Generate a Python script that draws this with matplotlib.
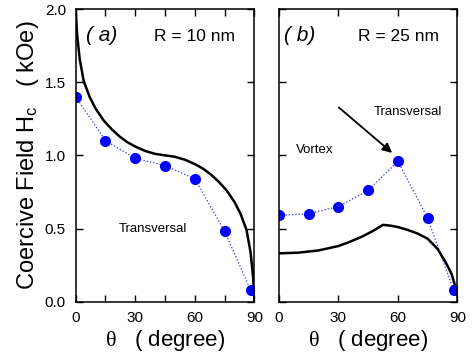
import matplotlib
matplotlib.use("Agg")
import matplotlib.pyplot as plt

plt.rcParams['font.family'] = ['Liberation Sans', 'DejaVu Sans']
plt.rcParams['mathtext.fontset'] = 'custom'
plt.rcParams['mathtext.rm'] = 'Liberation Serif'
plt.rcParams['mathtext.sf'] = 'Liberation Sans'
plt.rcParams['mathtext.it'] = 'Liberation Serif:italic'

# Simulated points (blue dots)
theta_pts = [0, 15, 30, 45, 60, 75, 88]
hc_a_pts = [1.40, 1.10, 0.98, 0.93, 0.84, 0.48, 0.08]
hc_b_pts = [0.59, 0.60, 0.65, 0.76, 0.96, 0.57, 0.08]

# Analytical curves (black)
theta_a = [0, 0.7, 2, 4, 7, 10, 14, 18, 22, 26, 30, 35, 40, 45, 50, 55, 60,
           64, 68, 72, 76, 80, 83, 86, 88, 89.3, 90]
hc_a = [2.0, 1.83, 1.66, 1.51, 1.40, 1.32, 1.24, 1.18, 1.13, 1.09, 1.06, 1.03,
        1.01, 1.0, 0.99, 0.97, 0.94, 0.91, 0.87, 0.82, 0.76, 0.68, 0.60, 0.49,
        0.34, 0.17, 0.0]
theta_b = [0, 10, 20, 30, 36, 42, 47, 52.5, 56, 60, 65, 70, 75, 80, 84, 87, 89, 90]
hc_b = [0.33, 0.335, 0.35, 0.38, 0.41, 0.445, 0.48, 0.525, 0.52, 0.51, 0.49,
        0.465, 0.43, 0.36, 0.27, 0.19, 0.10, 0.05]

fig = plt.figure(figsize=(4.77, 3.63), dpi=100)
ax1 = fig.add_axes([0.1587, 0.169, 0.3748, 0.806])
ax2 = fig.add_axes([0.5843, 0.169, 0.3748, 0.806])

for ax, th, hc, hp in [(ax1, theta_a, hc_a, hc_a_pts), (ax2, theta_b, hc_b, hc_b_pts)]:
    ax.plot(theta_pts, hp, linestyle=':', color='#3030ff', linewidth=0.9)
    ax.plot(th, hc, color='black', linewidth=1.8)
    ax.plot(theta_pts, hp, 'o', color='blue', markersize=7, linestyle='none')
    ax.set_xlim(0, 90)
    ax.set_ylim(0, 2.0)
    ax.set_yticks([0, 0.5, 1.0, 1.5, 2.0])
    ax.tick_params(direction='in', top=True, right=True, length=5, width=1,
                   labelsize=11, pad=7)
    for s in ax.spines.values():
        s.set_linewidth(1.1)
    ax.set_xlabel(r"$\mathrm{\theta}$   ( degree)", fontsize=16, labelpad=2)

ax1.set_xticks(range(0, 91, 15))
ax1.set_xticklabels(['0', '', '30', '', '60', '', '90'])
ax1.set_yticklabels(['0.0', '0.5', '1.0', '1.5', '2.0'])
ax2.set_xticks([0, 30, 60, 90])
ax2.set_yticklabels([])

ax1.set_ylabel(r"Coercive Field H$_{\mathsf{c}}$   ( kOe)", fontsize=17, labelpad=3)

ax1.text(5, 1.82, "( a)", fontsize=15, style='italic', va='center')
ax1.text(39.5, 1.81, "R = 10 nm", fontsize=12.5, va='center')
ax1.text(39, 0.50, "Transversal", fontsize=9.5, ha='center', va='center')

ax2.text(2.7, 1.82, "( b)", fontsize=15, style='italic', va='center')
ax2.text(40, 1.81, "R = 25 nm", fontsize=12.5, va='center')
ax2.text(65, 1.295, "Transversal", fontsize=9.5, ha='center', va='center')
ax2.text(18.3, 1.04, "Vortex", fontsize=9.5, ha='center', va='center')
ax2.annotate("", xy=(57.1, 1.017), xytext=(30.3, 1.327),
             arrowprops=dict(arrowstyle='-|>', color='black', lw=1.3,
                             mutation_scale=14, shrinkA=0, shrinkB=0))

fig.savefig("out.png", dpi=100)
